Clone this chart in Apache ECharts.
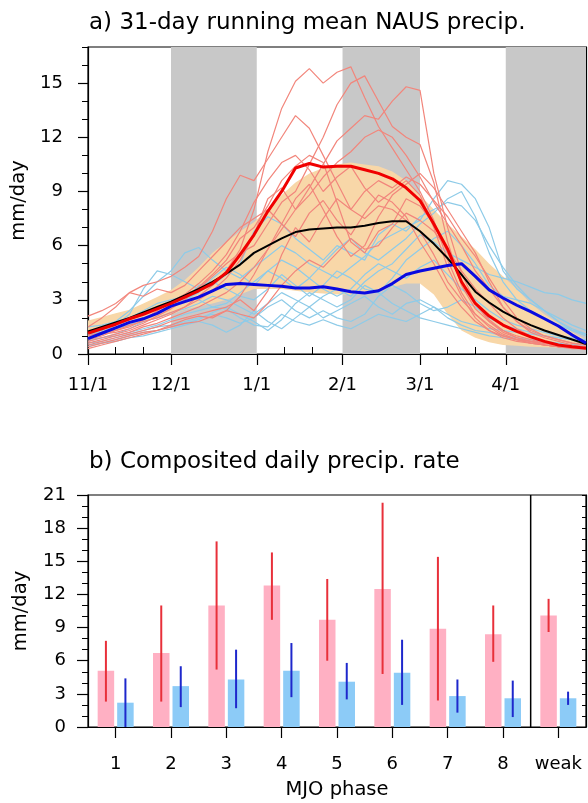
<!DOCTYPE html>
<html>
<head>
<meta charset="utf-8">
<script src="https://cdn.jsdelivr.net/npm/echarts/dist/echarts.min.js"></script>
<style>html,body{margin:0;padding:0;background:#fff;}#c{width:588px;height:803px;}</style>
</head>
<body>
<div id="c"></div>
<script>
// ---------- Panel a data (days since Nov 1, every 5 days) ----------
const days = [0,5,10,15,20,25,30,35,40,45,50,55,60,65,70,75,80,85,90,95,100,105,110,115,120,125,130,135,140,145,150,155,160,165,170,175,180];
const meanStrong = [1.15,1.4,1.65,1.95,2.2,2.5,2.8,3.15,3.5,3.9,4.5,5.5,6.6,7.9,9.0,10.3,10.55,10.35,10.4,10.4,10.2,10.0,9.7,9.2,8.5,7.2,5.8,4.0,2.8,2.1,1.6,1.25,0.95,0.7,0.5,0.4,0.32];
const meanAll = [1.25,1.5,1.75,2.0,2.3,2.6,2.9,3.25,3.6,4.0,4.45,4.95,5.6,6.0,6.4,6.75,6.9,6.95,7.0,7.0,7.1,7.25,7.35,7.35,6.8,6.1,5.3,4.4,3.45,2.85,2.35,1.95,1.6,1.3,1.05,0.8,0.55];
const meanWeak = [0.85,1.15,1.45,1.75,1.95,2.25,2.65,2.9,3.15,3.5,3.85,3.9,3.85,3.8,3.75,3.65,3.65,3.72,3.6,3.45,3.38,3.5,3.9,4.4,4.6,4.75,4.9,5.0,4.3,3.55,3.1,2.7,2.35,1.95,1.55,1.05,0.6];
const bandLow = [0.9,1.05,1.25,1.5,1.75,2.0,2.2,2.45,2.65,2.8,3.0,3.3,3.6,3.6,3.6,3.5,3.4,3.35,3.3,3.3,3.4,3.55,3.7,3.9,3.9,3.3,2.2,1.3,0.9,0.65,0.5,0.45,0.4,0.38,0.36,0.34,0.32];
const bandHigh = [1.85,2.05,2.25,2.45,2.8,3.15,3.55,4.1,4.8,5.6,6.2,6.8,7.3,8.0,8.8,9.5,10.0,10.3,10.5,10.6,10.5,10.4,10.1,9.6,8.8,8.0,7.2,6.5,5.8,5.0,4.3,3.6,2.8,2.2,1.7,1.2,0.8];

// individual strong-MJO seasons (red) and weak seasons (blue)
const strong1 = [1.0,1.2,1.3,1.6,1.8,2.0,2.3,2.6,3.2,3.8,4.6,5.8,8.0,11.2,13.6,15.1,15.8,15.0,15.6,15.9,14.2,12.6,11.4,10.2,9.0,7.4,5.2,3.4,2.2,1.5,1.0,0.8,0.6,0.5,0.4,0.35,0.3];
const strong2 = [0.6,0.8,1.0,1.2,1.5,1.7,2.0,2.3,2.6,3.0,3.4,4.0,4.8,5.8,6.9,8.0,9.2,10.5,11.8,12.5,13.2,13.0,14.0,14.8,14.6,10.0,7.0,4.5,2.8,1.8,1.2,0.9,0.7,0.5,0.4,0.3,0.3];
const strong3 = [1.2,1.4,1.6,1.9,2.2,2.5,2.8,3.3,3.6,4.3,5.0,5.6,6.0,7.2,8.4,9.0,10.5,12.0,13.8,15.0,15.4,14.0,12.6,12.0,11.6,9.5,6.2,3.8,2.5,1.8,1.3,1.0,0.8,0.6,0.5,0.4,0.35];
const strong4 = [2.1,2.4,2.8,3.4,3.8,4.0,4.3,4.8,5.4,6.8,8.6,9.9,9.6,10.8,12.0,13.2,12.5,11.0,9.5,8.0,7.5,8.2,8.0,7.4,6.8,5.5,4.0,3.0,2.2,1.6,1.1,0.8,0.6,0.5,0.4,0.4,0.35];
const strong5 = [0.8,1.0,1.3,1.5,1.9,2.4,2.9,3.3,3.9,4.6,5.5,6.8,8.4,9.6,10.6,11.0,10.2,9.0,9.8,10.4,9.2,8.4,9.0,9.6,8.8,7.0,4.8,3.2,2.0,1.3,0.9,0.7,0.6,0.5,0.4,0.4,0.3];
const strong6 = [0.5,0.7,0.9,1.1,1.3,1.5,1.8,2.0,2.2,2.4,2.6,3.0,2.4,3.5,5.5,7.0,6.2,7.5,8.6,8.0,9.0,9.6,9.2,9.8,9.4,8.5,7.6,6.4,5.4,4.2,3.0,2.0,1.4,1.0,0.8,0.6,0.5];
const strong7 = [1.5,2.0,2.6,3.4,3.2,3.6,3.4,3.8,4.6,5.4,6.2,7.0,7.5,8.0,7.2,6.5,7.8,8.5,7.4,6.6,7.8,8.8,8.4,7.6,6.2,5.0,3.6,2.6,1.8,1.3,1.0,0.8,0.7,0.6,0.5,0.4,0.4];
const strong8 = [0.4,0.6,0.8,1.0,1.2,1.3,1.6,1.9,2.1,2.0,2.4,3.2,4.4,5.8,7.2,8.6,9.4,8.0,6.5,5.4,6.0,7.6,8.8,9.4,10.0,9.2,8.0,6.8,5.6,4.0,2.6,1.8,1.3,1.0,0.8,0.6,0.5];
const strong9 = [0.9,1.1,1.2,1.4,1.7,2.1,2.5,3.0,3.7,4.4,5.2,6.4,7.0,8.2,9.6,10.4,11.0,10.6,8.4,6.2,5.6,6.8,7.2,8.6,8.2,7.2,5.6,4.0,2.8,1.9,1.3,0.9,0.7,0.6,0.5,0.4,0.3];
const strong10 = [0.3,0.5,0.7,0.9,1.1,1.3,1.5,1.7,1.8,2.1,2.4,2.2,2.0,2.8,3.8,4.6,5.2,4.8,5.6,6.4,5.8,6.0,7.0,7.8,7.4,6.8,5.8,4.6,3.6,2.8,2.0,1.4,1.0,0.7,0.5,0.4,0.3];
const strong11 = [0.7,0.9,1.1,1.3,1.6,1.9,2.2,2.6,3.0,3.5,4.2,5.2,6.6,8.6,9.2,8.0,8.8,9.8,10.6,11.2,12.0,12.4,12.0,11.0,9.8,8.4,7.2,6.0,4.6,3.6,2.6,1.8,1.2,0.9,0.7,0.5,0.4];

const weak1 = [1.0,1.3,1.8,2.4,3.2,4.0,4.6,5.6,5.9,5.2,4.6,4.2,4.8,5.4,6.0,5.6,5.0,4.6,4.2,4.8,5.4,6.2,6.6,7.0,7.4,8.6,9.6,9.4,8.6,7.0,4.6,3.6,3.0,2.4,1.8,1.3,1.0];
const weak2 = [0.9,1.2,1.6,2.2,3.6,4.6,4.4,4.0,3.6,3.8,4.4,5.0,6.8,7.6,7.2,6.4,5.8,5.2,6.0,5.6,5.2,6.6,7.2,6.8,7.6,8.0,8.4,8.2,7.4,6.0,4.8,3.8,3.0,2.4,1.8,1.4,1.1];
const weak3 = [0.5,0.6,0.7,0.9,1.0,1.2,1.4,1.6,1.8,1.6,1.2,1.6,2.4,1.8,1.4,2.0,2.6,2.0,2.4,2.8,3.2,2.6,2.2,2.8,3.0,2.6,2.0,1.6,1.3,1.2,1.0,0.9,0.8,0.7,0.6,0.5,0.5];
const weak4 = [0.7,0.9,1.1,1.4,1.8,2.0,2.3,2.5,2.8,3.2,3.0,2.6,2.2,2.8,3.4,3.0,2.6,3.2,3.6,3.2,4.0,4.6,5.0,5.8,6.6,6.2,5.6,5.2,4.8,4.4,4.2,4.0,3.7,3.4,3.3,3.0,2.8];
const weak5 = [1.2,1.4,1.6,1.9,2.2,2.5,2.8,3.0,3.4,4.2,4.8,4.4,3.8,4.6,5.2,4.8,4.2,3.6,3.2,3.6,4.4,5.0,4.6,4.2,4.8,5.2,4.4,3.6,3.0,2.4,1.9,1.6,1.4,1.2,1.0,0.9,0.8];
const weak6 = [0.6,0.7,0.9,1.1,1.3,1.5,1.6,1.8,2.0,2.2,2.0,1.7,2.0,2.6,3.0,2.4,2.0,2.4,2.0,1.8,2.2,3.2,3.8,3.4,2.8,2.4,2.6,3.0,2.6,2.0,1.6,1.4,1.2,1.0,0.9,0.8,0.7];
const weak7 = [1.5,1.6,1.8,2.0,2.4,2.8,3.0,3.2,3.0,2.6,2.8,3.4,4.0,4.6,4.2,3.6,4.2,5.0,5.8,6.4,5.6,5.2,5.8,6.4,7.2,7.8,8.6,9.0,7.6,5.6,4.0,3.0,2.4,2.0,1.6,1.3,1.1];
const weak8 = [0.4,0.6,0.8,1.0,1.2,1.3,1.5,1.7,1.9,2.3,2.6,2.2,1.8,1.3,1.9,2.8,3.4,3.0,2.6,3.0,3.8,3.4,2.8,2.4,2.0,1.8,1.6,1.4,1.2,1.0,0.9,0.8,0.7,0.6,0.5,0.5,0.4];
const weak9 = [1.1,1.2,1.4,1.6,2.0,2.2,2.6,3.0,3.8,4.0,3.6,3.2,3.0,3.6,4.4,3.8,3.2,3.8,4.6,4.2,3.6,3.4,4.2,5.2,5.8,6.4,6.8,6.0,5.0,3.8,3.2,3.0,2.8,2.4,2.0,1.6,1.3];
const weak10 = [0.8,0.9,1.0,1.2,1.4,1.6,1.9,2.2,2.4,2.6,2.5,2.0,1.6,1.5,2.2,1.8,1.6,1.9,1.6,1.4,1.8,2.2,2.0,1.8,2.2,2.6,2.2,1.8,1.6,1.4,1.3,1.2,1.1,1.0,0.9,0.8,0.7];

const strongMembers = [strong1,strong2,strong3,strong4,strong5,strong6,strong7,strong8,strong9,strong10,strong11];
const weakMembers = [weak1,weak2,weak3,weak4,weak5,weak6,weak7,weak8,weak9,weak10];

// shaded months (Dec, Feb, Apr) in days since Nov 1
const shadeStart = [30, 92, 151];
const shadeEnd = [61, 120, 180];
const monthTickDays = [0, 30, 61, 92, 120, 151];
const monthTickLabels = ['11/1', '12/1', '1/1', '2/1', '3/1', '4/1'];
const minorTickDays = [10, 20, 40, 50, 71, 81, 102, 112, 130, 140, 161, 171];
const yTicksA = [0, 3, 6, 9, 12, 15];

// ---------- Panel b data ----------
const phases = ['1','2','3','4','5','6','7','8','weak'];
const strongRate = [5.1, 6.7, 11.0, 12.8, 9.7, 12.5, 8.9, 8.4, 10.1];
const strongLo = [2.3, 2.3, 5.2, 9.7, 6.0, 4.8, 2.4, 5.9, 8.6];
const strongHi = [7.8, 11.0, 16.8, 15.8, 13.4, 20.3, 15.4, 11.0, 11.6];
const weakRate = [2.2, 3.7, 4.3, 5.1, 4.1, 4.9, 2.8, 2.6, 2.6];
const weakLo = [0.0, 1.8, 1.7, 2.7, 2.5, 2.0, 1.3, 0.9, 2.0];
const weakHi = [4.4, 5.5, 7.0, 7.6, 5.8, 7.9, 4.3, 4.2, 3.2];
const separatorAfter = '8';

// ---------- chart ----------
const FONT = 'DejaVu Sans';
const pair = arr => days.map((d, i) => [d, arr[i]]);
const BAR_W = 16.5, BAR_GAP_PX = 3;
const barOffset = (BAR_W + BAR_GAP_PX) / 2;

const series = [];
// grey month shading
series.push({
  type: 'custom', xAxisIndex: 0, yAxisIndex: 0, z: 1, silent: true,
  data: shadeStart.map((s, i) => [s, shadeEnd[i]]),
  renderItem: (params, api) => {
    const a = api.coord([api.value(0), 0]);
    const b = api.coord([api.value(1), 17]);
    return { type: 'rect', shape: { x: a[0], y: b[1], width: b[0] - a[0], height: a[1] - b[1] }, style: { fill: '#c8c8c8' } };
  }
});
// spread band (single polygon through the scale)
series.push({
  type: 'custom', xAxisIndex: 0, yAxisIndex: 0, z: 2, silent: true,
  data: days.map((d, i) => [d, bandLow[i], bandHigh[i]]),
  renderItem: (params, api) => {
    if (params.dataIndex !== 0) return null;
    const pts = [];
    days.forEach((d, i) => pts.push(api.coord([d, bandHigh[i]])));
    for (let i = days.length - 1; i >= 0; i--) pts.push(api.coord([days[i], bandLow[i]]));
    return { type: 'polygon', shape: { points: pts }, style: { fill: '#f8d7a8' } };
  }
});
weakMembers.forEach(m => series.push({
  type: 'line', xAxisIndex: 0, yAxisIndex: 0, symbol: 'none', z: 3, data: pair(m),
  lineStyle: { color: '#8ecbe8', width: 1.2 }, silent: true
}));
strongMembers.forEach(m => series.push({
  type: 'line', xAxisIndex: 0, yAxisIndex: 0, symbol: 'none', z: 3, data: pair(m),
  lineStyle: { color: '#f2867c', width: 1.2 }, silent: true
}));
series.push({ type: 'line', xAxisIndex: 0, yAxisIndex: 0, symbol: 'none', z: 4, data: pair(meanAll), lineStyle: { color: '#000', width: 2 } });
series.push({ type: 'line', xAxisIndex: 0, yAxisIndex: 0, symbol: 'none', z: 5, data: pair(meanWeak), lineStyle: { color: '#0a0ae0', width: 3 } });
series.push({ type: 'line', xAxisIndex: 0, yAxisIndex: 0, symbol: 'none', z: 5, data: pair(meanStrong), lineStyle: { color: '#f00000', width: 3 } });

// panel b
series.push({ type: 'bar', xAxisIndex: 2, yAxisIndex: 3, data: strongRate, barWidth: BAR_W, barGap: (BAR_GAP_PX / BAR_W * 100) + '%', itemStyle: { color: '#ffb0c3' }, z: 2 });
series.push({ type: 'bar', xAxisIndex: 2, yAxisIndex: 3, data: weakRate, barWidth: BAR_W, itemStyle: { color: '#8ccbf7' }, z: 2 });
function errSeries(lo, hi, off, color) {
  return {
    type: 'custom', xAxisIndex: 2, yAxisIndex: 3, z: 6,
    data: phases.map((p, i) => [i, lo[i], hi[i]]),
    renderItem: (params, api) => {
      const a = api.coord([api.value(0), api.value(1)]);
      const b = api.coord([api.value(0), api.value(2)]);
      const x = a[0] + off;
      return { type: 'line', shape: { x1: x, y1: a[1], x2: x, y2: b[1] }, style: { stroke: color, lineWidth: 2 } };
    }
  };
}
series.push(errSeries(strongLo, strongHi, -barOffset, '#e8303a'));
series.push(errSeries(weakLo, weakHi, barOffset, '#1e28cc'));
series.push({
  type: 'custom', xAxisIndex: 2, yAxisIndex: 3, z: 7,
  data: [[phases.indexOf(separatorAfter), 0, 21]],
  renderItem: (params, api) => {
    const a = api.coord([api.value(0), api.value(1)]);
    const b = api.coord([api.value(0), api.value(2)]);
    const x = a[0] + api.size([1, 0])[0] / 2;
    return { type: 'line', shape: { x1: x, y1: a[1], x2: x, y2: b[1] }, style: { stroke: '#000', lineWidth: 1.5 } };
  }
});

const lbl = { color: '#000', fontFamily: FONT, fontSize: 18 };
const nameStyle = { color: '#000', fontFamily: FONT, fontSize: 19.5 };
const blackLine = { show: true, lineStyle: { color: '#000', width: 1.2 } };

const option = {
  animation: false,
  backgroundColor: '#fff',
  textStyle: { fontFamily: FONT },
  title: [
    { text: 'a) 31-day running mean NAUS precip.', left: 84, top: 7, textStyle: { fontFamily: FONT, fontSize: 23, fontWeight: 'normal', color: '#000' } },
    { text: 'b) Composited daily precip. rate', left: 84, top: 446, textStyle: { fontFamily: FONT, fontSize: 23, fontWeight: 'normal', color: '#000' } }
  ],
  grid: [
    { left: 88, top: 47, width: 498, height: 307, show: true, borderColor: '#000', borderWidth: 1.2, backgroundColor: 'transparent' },
    { left: 88, top: 495, width: 498, height: 232, show: true, borderColor: '#000', borderWidth: 1.2, backgroundColor: 'transparent' }
  ],
  xAxis: [
    { type: 'value', gridIndex: 0, min: 0, max: 180, axisLine: blackLine, splitLine: { show: false },
      axisTick: { show: true, customValues: monthTickDays, length: 11, lineStyle: { color: '#000', width: 1.2 } },
      axisLabel: { ...lbl, customValues: monthTickDays, margin: 22, formatter: v => monthTickLabels[monthTickDays.indexOf(v)] } },
    { type: 'value', gridIndex: 0, min: 0, max: 180, axisLine: { show: false }, splitLine: { show: false },
      axisTick: { show: true, customValues: minorTickDays, length: 7, lineStyle: { color: '#000', width: 1 } },
      axisLabel: { show: false } },
    { type: 'category', gridIndex: 1, data: phases, axisLine: blackLine,
      axisTick: { show: true, alignWithLabel: true, interval: 0, length: 11, lineStyle: { color: '#000', width: 1.2 } },
      axisLabel: { ...lbl, interval: 0, margin: 28 },
      name: 'MJO phase', nameLocation: 'middle', nameGap: 53, nameTextStyle: nameStyle }
  ],
  yAxis: [
    { type: 'value', gridIndex: 0, min: 0, max: 17, position: 'left', axisLine: blackLine, splitLine: { show: false },
      axisTick: { show: true, customValues: yTicksA, length: 10, lineStyle: { color: '#000', width: 1.2 } },
      axisLabel: { ...lbl, customValues: yTicksA, margin: 25 },
      name: 'mm/day', nameLocation: 'middle', nameGap: 56, nameTextStyle: nameStyle },
    { type: 'value', gridIndex: 0, min: 0, max: 17, interval: 1, position: 'left', axisLine: { show: false }, splitLine: { show: false },
      axisTick: { show: true, length: 6, lineStyle: { color: '#000', width: 1 } }, axisLabel: { show: false } },
    { type: 'value', gridIndex: 0, min: 0, max: 17, interval: 1, position: 'right', axisLine: blackLine, splitLine: { show: false },
      axisTick: { show: true, inside: true, length: 4, lineStyle: { color: '#000', width: 1 } }, axisLabel: { show: false } },
    { type: 'value', gridIndex: 1, min: 0, max: 21, interval: 3, position: 'left', axisLine: blackLine, splitLine: { show: false },
      axisTick: { show: true, length: 11, lineStyle: { color: '#000', width: 1.2 } },
      minorTick: { show: true, splitNumber: 3, length: 6, lineStyle: { color: '#000', width: 1 } },
      axisLabel: { ...lbl, margin: 22 },
      name: 'mm/day', nameLocation: 'middle', nameGap: 57, nameTextStyle: nameStyle },
    { type: 'value', gridIndex: 1, min: 0, max: 21, interval: 1, position: 'right', axisLine: blackLine, splitLine: { show: false },
      axisTick: { show: true, inside: true, length: 4, lineStyle: { color: '#000', width: 1 } }, axisLabel: { show: false } }
  ],
  series: series
};
const chart = echarts.init(document.getElementById('c'), null, { renderer: 'canvas' });
chart.setOption(option);
</script>
</body>
</html>
